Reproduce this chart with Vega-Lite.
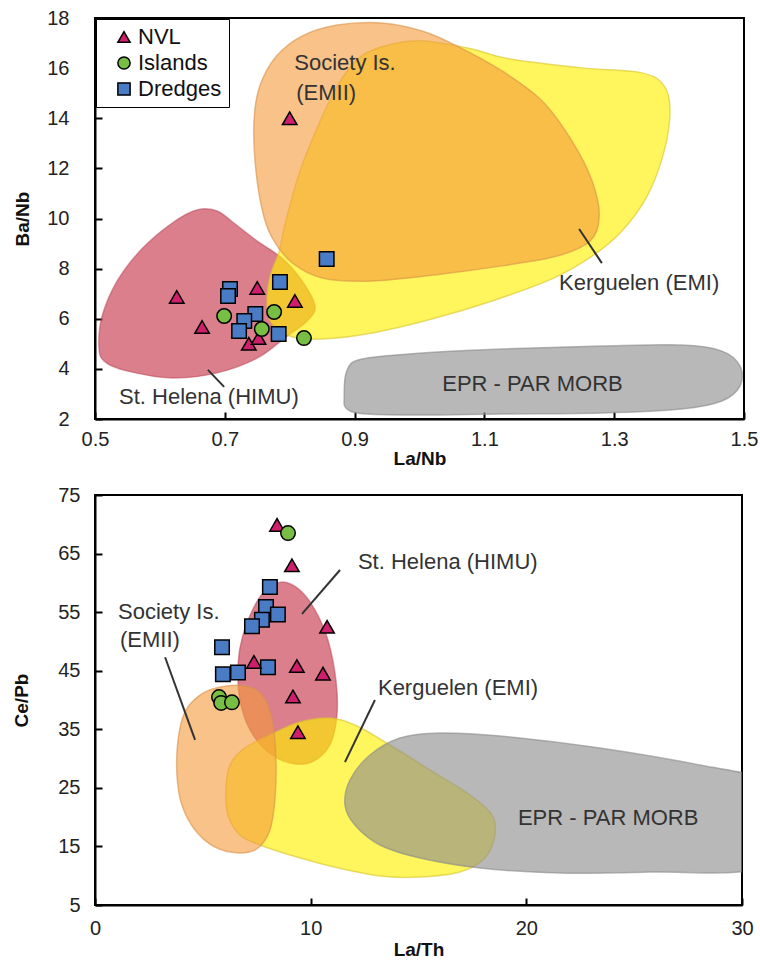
{
  "$schema": "https://vega.github.io/schema/vega-lite/v6.json",
  "padding": {"left": 11, "top": 7, "right": 10, "bottom": 2},
  "spacing": 15,
  "config": {
    "font": "Liberation Sans",
    "view": {"stroke": "black", "strokeWidth": 2},
    "axis": {
      "grid": false,
      "domainColor": "black",
      "domainWidth": 2,
      "tickColor": "black",
      "tickWidth": 2,
      "tickSize": -7,
      "labelFont": "Liberation Sans",
      "labelFontSize": 20,
      "labelColor": "#222222",
      "labelOverlap": false,
      "labelFlush": false,
      "titleFont": "Liberation Sans",
      "titleFontSize": 19,
      "titleFontWeight": "bold",
      "titleColor": "#111111"
    }
  },
  "datasets": {
    "shapes": [
      {"panel": "top", "region": "St. Helena", "i": 1, "x": 0.506, "y": 4.91},
      {"panel": "top", "region": "St. Helena", "i": 2, "x": 0.511, "y": 6.11},
      {"panel": "top", "region": "St. Helena", "i": 3, "x": 0.534, "y": 7.5},
      {"panel": "top", "region": "St. Helena", "i": 4, "x": 0.572, "y": 8.78},
      {"panel": "top", "region": "St. Helena", "i": 5, "x": 0.619, "y": 9.82},
      {"panel": "top", "region": "St. Helena", "i": 6, "x": 0.657, "y": 10.34},
      {"panel": "top", "region": "St. Helena", "i": 7, "x": 0.688, "y": 10.3},
      {"panel": "top", "region": "St. Helena", "i": 8, "x": 0.714, "y": 9.82},
      {"panel": "top", "region": "St. Helena", "i": 9, "x": 0.75, "y": 9.1},
      {"panel": "top", "region": "St. Helena", "i": 10, "x": 0.788, "y": 8.42},
      {"panel": "top", "region": "St. Helena", "i": 11, "x": 0.819, "y": 7.51},
      {"panel": "top", "region": "St. Helena", "i": 12, "x": 0.839, "y": 6.51},
      {"panel": "top", "region": "St. Helena", "i": 13, "x": 0.827, "y": 5.91},
      {"panel": "top", "region": "St. Helena", "i": 14, "x": 0.796, "y": 5.31},
      {"panel": "top", "region": "St. Helena", "i": 15, "x": 0.75, "y": 4.43},
      {"panel": "top", "region": "St. Helena", "i": 16, "x": 0.688, "y": 3.84},
      {"panel": "top", "region": "St. Helena", "i": 17, "x": 0.619, "y": 3.64},
      {"panel": "top", "region": "St. Helena", "i": 18, "x": 0.549, "y": 3.92},
      {"panel": "top", "region": "St. Helena", "i": 19, "x": 0.514, "y": 4.31},

      {"panel": "top", "region": "Kerguelen", "i": 1, "x": 0.765, "y": 6.71},
      {"panel": "top", "region": "Kerguelen", "i": 2, "x": 0.77, "y": 7.71},
      {"panel": "top", "region": "Kerguelen", "i": 3, "x": 0.784, "y": 8.7},
      {"panel": "top", "region": "Kerguelen", "i": 4, "x": 0.794, "y": 9.9},
      {"panel": "top", "region": "Kerguelen", "i": 5, "x": 0.816, "y": 11.9},
      {"panel": "top", "region": "Kerguelen", "i": 6, "x": 0.847, "y": 13.89},
      {"panel": "top", "region": "Kerguelen", "i": 7, "x": 0.878, "y": 15.49},
      {"panel": "top", "region": "Kerguelen", "i": 8, "x": 0.911, "y": 16.49},
      {"panel": "top", "region": "Kerguelen", "i": 9, "x": 0.958, "y": 16.96},
      {"panel": "top", "region": "Kerguelen", "i": 10, "x": 1.008, "y": 17.08},
      {"panel": "top", "region": "Kerguelen", "i": 11, "x": 1.081, "y": 16.76},
      {"panel": "top", "region": "Kerguelen", "i": 12, "x": 1.138, "y": 16.37},
      {"panel": "top", "region": "Kerguelen", "i": 13, "x": 1.25, "y": 16.01},
      {"panel": "top", "region": "Kerguelen", "i": 14, "x": 1.343, "y": 15.81},
      {"panel": "top", "region": "Kerguelen", "i": 15, "x": 1.377, "y": 15.29},
      {"panel": "top", "region": "Kerguelen", "i": 16, "x": 1.386, "y": 14.29},
      {"panel": "top", "region": "Kerguelen", "i": 17, "x": 1.377, "y": 12.69},
      {"panel": "top", "region": "Kerguelen", "i": 18, "x": 1.351, "y": 10.9},
      {"panel": "top", "region": "Kerguelen", "i": 19, "x": 1.312, "y": 9.5},
      {"panel": "top", "region": "Kerguelen", "i": 20, "x": 1.266, "y": 8.5},
      {"panel": "top", "region": "Kerguelen", "i": 21, "x": 1.204, "y": 7.59},
      {"panel": "top", "region": "Kerguelen", "i": 22, "x": 1.112, "y": 6.71},
      {"panel": "top", "region": "Kerguelen", "i": 23, "x": 1.019, "y": 5.99},
      {"panel": "top", "region": "Kerguelen", "i": 24, "x": 0.927, "y": 5.43},
      {"panel": "top", "region": "Kerguelen", "i": 25, "x": 0.85, "y": 5.19},
      {"panel": "top", "region": "Kerguelen", "i": 26, "x": 0.8, "y": 5.31},
      {"panel": "top", "region": "Kerguelen", "i": 27, "x": 0.77, "y": 5.91},

      {"panel": "top", "region": "Society", "i": 1, "x": 0.76, "y": 10.1},
      {"panel": "top", "region": "Society", "i": 2, "x": 0.748, "y": 11.9},
      {"panel": "top", "region": "Society", "i": 3, "x": 0.745, "y": 13.89},
      {"panel": "top", "region": "Society", "i": 4, "x": 0.754, "y": 15.29},
      {"panel": "top", "region": "Society", "i": 5, "x": 0.78, "y": 16.49},
      {"panel": "top", "region": "Society", "i": 6, "x": 0.819, "y": 17.28},
      {"panel": "top", "region": "Society", "i": 7, "x": 0.873, "y": 17.72},
      {"panel": "top", "region": "Society", "i": 8, "x": 0.942, "y": 17.8},
      {"panel": "top", "region": "Society", "i": 9, "x": 1.004, "y": 17.48},
      {"panel": "top", "region": "Society", "i": 10, "x": 1.058, "y": 16.88},
      {"panel": "top", "region": "Society", "i": 11, "x": 1.127, "y": 15.89},
      {"panel": "top", "region": "Society", "i": 12, "x": 1.189, "y": 14.69},
      {"panel": "top", "region": "Society", "i": 13, "x": 1.235, "y": 13.09},
      {"panel": "top", "region": "Society", "i": 14, "x": 1.266, "y": 11.5},
      {"panel": "top", "region": "Society", "i": 15, "x": 1.277, "y": 10.1},
      {"panel": "top", "region": "Society", "i": 16, "x": 1.263, "y": 9.1},
      {"panel": "top", "region": "Society", "i": 17, "x": 1.212, "y": 8.5},
      {"panel": "top", "region": "Society", "i": 18, "x": 1.127, "y": 8.11},
      {"panel": "top", "region": "Society", "i": 19, "x": 1.035, "y": 7.79},
      {"panel": "top", "region": "Society", "i": 20, "x": 0.927, "y": 7.51},
      {"panel": "top", "region": "Society", "i": 21, "x": 0.85, "y": 7.63},
      {"panel": "top", "region": "Society", "i": 22, "x": 0.804, "y": 8.23},
      {"panel": "top", "region": "Society", "i": 23, "x": 0.776, "y": 9.1},

      {"panel": "top", "region": "EPR", "i": 1, "x": 0.884, "y": 2.92},
      {"panel": "top", "region": "EPR", "i": 2, "x": 0.888, "y": 3.92},
      {"panel": "top", "region": "EPR", "i": 3, "x": 0.911, "y": 4.39},
      {"panel": "top", "region": "EPR", "i": 4, "x": 1.004, "y": 4.63},
      {"panel": "top", "region": "EPR", "i": 5, "x": 1.127, "y": 4.79},
      {"panel": "top", "region": "EPR", "i": 6, "x": 1.281, "y": 4.91},
      {"panel": "top", "region": "EPR", "i": 7, "x": 1.404, "y": 4.95},
      {"panel": "top", "region": "EPR", "i": 8, "x": 1.466, "y": 4.71},
      {"panel": "top", "region": "EPR", "i": 9, "x": 1.494, "y": 4.11},
      {"panel": "top", "region": "EPR", "i": 10, "x": 1.494, "y": 3.32},
      {"panel": "top", "region": "EPR", "i": 11, "x": 1.466, "y": 2.72},
      {"panel": "top", "region": "EPR", "i": 12, "x": 1.404, "y": 2.4},
      {"panel": "top", "region": "EPR", "i": 13, "x": 1.281, "y": 2.24},
      {"panel": "top", "region": "EPR", "i": 14, "x": 1.127, "y": 2.2},
      {"panel": "top", "region": "EPR", "i": 15, "x": 1.004, "y": 2.16},
      {"panel": "top", "region": "EPR", "i": 16, "x": 0.919, "y": 2.2},
      {"panel": "top", "region": "EPR", "i": 17, "x": 0.888, "y": 2.4},

      {"panel": "bottom", "region": "St. Helena", "i": 1, "x": 8.72, "y": 60.15},
      {"panel": "bottom", "region": "St. Helena", "i": 2, "x": 9.5, "y": 58.78},
      {"panel": "bottom", "region": "St. Helena", "i": 3, "x": 10.2, "y": 55.37},
      {"panel": "bottom", "region": "St. Helena", "i": 4, "x": 10.8, "y": 50.24},
      {"panel": "bottom", "region": "St. Helena", "i": 5, "x": 11.17, "y": 43.42},
      {"panel": "bottom", "region": "St. Helena", "i": 6, "x": 11.22, "y": 37.44},
      {"panel": "bottom", "region": "St. Helena", "i": 7, "x": 10.89, "y": 32.32},
      {"panel": "bottom", "region": "St. Helena", "i": 8, "x": 10.06, "y": 29.42},
      {"panel": "bottom", "region": "St. Helena", "i": 9, "x": 9.04, "y": 29.24},
      {"panel": "bottom", "region": "St. Helena", "i": 10, "x": 8.02, "y": 31.12},
      {"panel": "bottom", "region": "St. Helena", "i": 11, "x": 7.19, "y": 34.88},
      {"panel": "bottom", "region": "St. Helena", "i": 12, "x": 6.72, "y": 40.0},
      {"panel": "bottom", "region": "St. Helena", "i": 13, "x": 6.63, "y": 45.98},
      {"panel": "bottom", "region": "St. Helena", "i": 14, "x": 6.86, "y": 51.1},
      {"panel": "bottom", "region": "St. Helena", "i": 15, "x": 7.42, "y": 56.22},
      {"panel": "bottom", "region": "St. Helena", "i": 16, "x": 8.02, "y": 59.12},

      {"panel": "bottom", "region": "Kerguelen", "i": 1, "x": 6.07, "y": 24.63},
      {"panel": "bottom", "region": "Kerguelen", "i": 2, "x": 6.26, "y": 28.9},
      {"panel": "bottom", "region": "Kerguelen", "i": 3, "x": 6.95, "y": 31.81},
      {"panel": "bottom", "region": "Kerguelen", "i": 4, "x": 8.11, "y": 34.03},
      {"panel": "bottom", "region": "Kerguelen", "i": 5, "x": 9.5, "y": 36.24},
      {"panel": "bottom", "region": "Kerguelen", "i": 6, "x": 10.89, "y": 36.93},
      {"panel": "bottom", "region": "Kerguelen", "i": 7, "x": 12.05, "y": 35.73},
      {"panel": "bottom", "region": "Kerguelen", "i": 8, "x": 13.68, "y": 32.32},
      {"panel": "bottom", "region": "Kerguelen", "i": 9, "x": 15.53, "y": 28.05},
      {"panel": "bottom", "region": "Kerguelen", "i": 10, "x": 17.39, "y": 23.78},
      {"panel": "bottom", "region": "Kerguelen", "i": 11, "x": 18.41, "y": 20.37},
      {"panel": "bottom", "region": "Kerguelen", "i": 12, "x": 18.54, "y": 16.95},
      {"panel": "bottom", "region": "Kerguelen", "i": 13, "x": 18.08, "y": 13.02},
      {"panel": "bottom", "region": "Kerguelen", "i": 14, "x": 16.92, "y": 10.63},
      {"panel": "bottom", "region": "Kerguelen", "i": 15, "x": 15.07, "y": 9.78},
      {"panel": "bottom", "region": "Kerguelen", "i": 16, "x": 13.21, "y": 9.95},
      {"panel": "bottom", "region": "Kerguelen", "i": 17, "x": 10.89, "y": 11.66},
      {"panel": "bottom", "region": "Kerguelen", "i": 18, "x": 9.04, "y": 13.54},
      {"panel": "bottom", "region": "Kerguelen", "i": 19, "x": 7.65, "y": 15.24},
      {"panel": "bottom", "region": "Kerguelen", "i": 20, "x": 6.72, "y": 16.95},
      {"panel": "bottom", "region": "Kerguelen", "i": 21, "x": 6.17, "y": 20.37},

      {"panel": "bottom", "region": "Society", "i": 1, "x": 3.85, "y": 33.17},
      {"panel": "bottom", "region": "Society", "i": 2, "x": 4.17, "y": 37.95},
      {"panel": "bottom", "region": "Society", "i": 3, "x": 4.87, "y": 40.85},
      {"panel": "bottom", "region": "Society", "i": 4, "x": 5.8, "y": 42.22},
      {"panel": "bottom", "region": "Society", "i": 5, "x": 6.95, "y": 42.39},
      {"panel": "bottom", "region": "Society", "i": 6, "x": 7.74, "y": 40.85},
      {"panel": "bottom", "region": "Society", "i": 7, "x": 8.21, "y": 36.59},
      {"panel": "bottom", "region": "Society", "i": 8, "x": 8.39, "y": 29.76},
      {"panel": "bottom", "region": "Society", "i": 9, "x": 8.34, "y": 22.93},
      {"panel": "bottom", "region": "Society", "i": 10, "x": 8.11, "y": 17.81},
      {"panel": "bottom", "region": "Society", "i": 11, "x": 7.56, "y": 14.73},
      {"panel": "bottom", "region": "Society", "i": 12, "x": 6.72, "y": 13.88},
      {"panel": "bottom", "region": "Society", "i": 13, "x": 5.56, "y": 14.9},
      {"panel": "bottom", "region": "Society", "i": 14, "x": 4.64, "y": 17.81},
      {"panel": "bottom", "region": "Society", "i": 15, "x": 4.03, "y": 22.07},
      {"panel": "bottom", "region": "Society", "i": 16, "x": 3.8, "y": 27.2},

      {"panel": "bottom", "region": "EPR", "i": 1, "x": 11.59, "y": 22.07},
      {"panel": "bottom", "region": "EPR", "i": 2, "x": 11.82, "y": 26.34},
      {"panel": "bottom", "region": "EPR", "i": 3, "x": 12.75, "y": 30.61},
      {"panel": "bottom", "region": "EPR", "i": 4, "x": 14.14, "y": 33.51},
      {"panel": "bottom", "region": "EPR", "i": 5, "x": 15.99, "y": 34.37},
      {"panel": "bottom", "region": "EPR", "i": 6, "x": 18.78, "y": 33.85},
      {"panel": "bottom", "region": "EPR", "i": 7, "x": 23.41, "y": 31.81},
      {"panel": "bottom", "region": "EPR", "i": 8, "x": 28.05, "y": 28.9},
      {"panel": "bottom", "region": "EPR", "i": 9, "x": 30.83, "y": 26.34},
      {"panel": "bottom", "region": "EPR", "i": 10, "x": 31.76, "y": 19.51},
      {"panel": "bottom", "region": "EPR", "i": 11, "x": 30.83, "y": 11.32},
      {"panel": "bottom", "region": "EPR", "i": 12, "x": 25.73, "y": 10.63},
      {"panel": "bottom", "region": "EPR", "i": 13, "x": 21.56, "y": 10.46},
      {"panel": "bottom", "region": "EPR", "i": 14, "x": 17.85, "y": 11.32},
      {"panel": "bottom", "region": "EPR", "i": 15, "x": 15.07, "y": 13.02},
      {"panel": "bottom", "region": "EPR", "i": 16, "x": 13.21, "y": 15.24},
      {"panel": "bottom", "region": "EPR", "i": 17, "x": 12.05, "y": 18.66}
    ],
    "points": [
      {"panel": "top", "group": "Dredges", "x": 0.857, "y": 8.38},
      {"panel": "top", "group": "Dredges", "x": 0.785, "y": 7.47},
      {"panel": "top", "group": "Dredges", "x": 0.708, "y": 7.19},
      {"panel": "top", "group": "Dredges", "x": 0.705, "y": 6.91},
      {"panel": "top", "group": "Dredges", "x": 0.747, "y": 6.19},
      {"panel": "top", "group": "Dredges", "x": 0.73, "y": 5.91},
      {"panel": "top", "group": "Dredges", "x": 0.722, "y": 5.51},
      {"panel": "top", "group": "Dredges", "x": 0.783, "y": 5.39},
      {"panel": "top", "group": "NVL", "x": 0.8, "y": 14.0},
      {"panel": "top", "group": "NVL", "x": 0.626, "y": 6.87},
      {"panel": "top", "group": "NVL", "x": 0.665, "y": 5.67},
      {"panel": "top", "group": "NVL", "x": 0.75, "y": 7.23},
      {"panel": "top", "group": "NVL", "x": 0.808, "y": 6.71},
      {"panel": "top", "group": "NVL", "x": 0.737, "y": 5.0},
      {"panel": "top", "group": "NVL", "x": 0.752, "y": 5.23},
      {"panel": "top", "group": "Islands", "x": 0.699, "y": 6.11},
      {"panel": "top", "group": "Islands", "x": 0.776, "y": 6.27},
      {"panel": "top", "group": "Islands", "x": 0.757, "y": 5.59},
      {"panel": "top", "group": "Islands", "x": 0.822, "y": 5.23},

      {"panel": "bottom", "group": "Dredges", "x": 8.11, "y": 59.3},
      {"panel": "bottom", "group": "Dredges", "x": 7.93, "y": 55.9},
      {"panel": "bottom", "group": "Dredges", "x": 8.48, "y": 54.6},
      {"panel": "bottom", "group": "Dredges", "x": 7.74, "y": 53.7},
      {"panel": "bottom", "group": "Dredges", "x": 7.28, "y": 52.6},
      {"panel": "bottom", "group": "Dredges", "x": 5.89, "y": 49.0},
      {"panel": "bottom", "group": "Dredges", "x": 8.02, "y": 45.6},
      {"panel": "bottom", "group": "Dredges", "x": 5.93, "y": 44.4},
      {"panel": "bottom", "group": "Dredges", "x": 6.63, "y": 44.7},
      {"panel": "bottom", "group": "NVL", "x": 8.44, "y": 69.9},
      {"panel": "bottom", "group": "NVL", "x": 9.13, "y": 63.0},
      {"panel": "bottom", "group": "NVL", "x": 10.76, "y": 52.5},
      {"panel": "bottom", "group": "NVL", "x": 7.37, "y": 46.5},
      {"panel": "bottom", "group": "NVL", "x": 9.36, "y": 45.8},
      {"panel": "bottom", "group": "NVL", "x": 10.57, "y": 44.5},
      {"panel": "bottom", "group": "NVL", "x": 9.18, "y": 40.6},
      {"panel": "bottom", "group": "NVL", "x": 9.41, "y": 34.5},
      {"panel": "bottom", "group": "Islands", "x": 8.95, "y": 68.5},
      {"panel": "bottom", "group": "Islands", "x": 5.75, "y": 40.5},
      {"panel": "bottom", "group": "Islands", "x": 5.85, "y": 39.5},
      {"panel": "bottom", "group": "Islands", "x": 6.35, "y": 39.6}
    ],
    "labels": [
      {"panel": "top", "text": "Society Is.", "x": 0.807, "y": 16.21},
      {"panel": "top", "text": "(EMII)", "x": 0.81, "y": 15.01},
      {"panel": "top", "text": "Kerguelen (EMI)", "x": 1.215, "y": 7.43},
      {"panel": "top", "text": "St. Helena (HIMU)", "x": 0.537, "y": 2.88},
      {"panel": "top", "text": "EPR - PAR MORB", "x": 1.035, "y": 3.4},
      {"panel": "bottom", "text": "St. Helena (HIMU)", "x": 12.19, "y": 63.56},
      {"panel": "bottom", "text": "Society Is.", "x": 1.07, "y": 55.0},
      {"panel": "bottom", "text": "(EMII)", "x": 1.16, "y": 50.2},
      {"panel": "bottom", "text": "Kerguelen (EMI)", "x": 13.12, "y": 42.05},
      {"panel": "bottom", "text": "EPR - PAR MORB", "x": 19.61, "y": 19.85}
    ],
    "leaders": [
      {"panel": "top", "x": 1.246, "y": 9.58, "xe": 1.281, "ye": 8.22},
      {"panel": "top", "x": 0.674, "y": 3.96, "xe": 0.699, "ye": 3.28},
      {"panel": "bottom", "x": 11.36, "y": 62.2, "xe": 9.6, "ye": 54.7},
      {"panel": "bottom", "x": 3.25, "y": 47.3, "xe": 4.64, "ye": 33.2},
      {"panel": "bottom", "x": 12.98, "y": 40.0, "xe": 11.59, "ye": 29.4}
    ]
  },
  "resolve": {
    "scale": {"fill": "independent", "shape": "independent"},
    "legend": {"fill": "independent", "shape": "independent"}
  },
  "vconcat": [
    {
      "width": 649,
      "height": 401,
      "encoding": {
        "x": {"field": "x", "type": "quantitative", "title": "La/Nb",
              "scale": {"domain": [0.5, 1.5], "nice": false, "zero": false},
              "axis": {"values": [0.5, 0.7, 0.9, 1.1, 1.3, 1.5], "format": ".1f", "labelPadding": 17, "titlePadding": 0}},
        "y": {"field": "y", "type": "quantitative", "title": "Ba/Nb",
              "scale": {"domain": [2, 18], "nice": false, "zero": false},
              "axis": {"values": [2, 4, 6, 8, 10, 12, 14, 16, 18], "labelPadding": 33, "titlePadding": 14}}
      },
      "layer": [
        {
          "data": {"name": "shapes"},
          "transform": [{"filter": "datum.panel === 'top' && datum.region === 'St. Helena'"}],
          "mark": {"type": "line", "interpolate": "cardinal-closed", "fill": "#c83c50", "fillOpacity": 0.66, "stroke": "#b84455", "strokeWidth": 1.5, "strokeOpacity": 0.5},
          "encoding": {"order": {"field": "i"}}
        },
        {
          "data": {"name": "shapes"},
          "transform": [{"filter": "datum.panel === 'top' && datum.region === 'Kerguelen'"}],
          "mark": {"type": "line", "interpolate": "cardinal-closed", "fill": "#fff000", "fillOpacity": 0.64, "stroke": "#d8c430", "strokeWidth": 1.5, "strokeOpacity": 0.6},
          "encoding": {"order": {"field": "i"}}
        },
        {
          "data": {"name": "shapes"},
          "transform": [{"filter": "datum.panel === 'top' && datum.region === 'Society'"}],
          "mark": {"type": "line", "interpolate": "cardinal-closed", "fill": "#f39a3a", "fillOpacity": 0.6, "stroke": "#d8924a", "strokeWidth": 1.5, "strokeOpacity": 0.6},
          "encoding": {"order": {"field": "i"}}
        },
        {
          "data": {"name": "shapes"},
          "transform": [{"filter": "datum.panel === 'top' && datum.region === 'EPR'"}],
          "mark": {"type": "line", "interpolate": "cardinal-closed", "fill": "#8c8c8c", "fillOpacity": 0.62, "stroke": "#8a8a8a", "strokeWidth": 1.5, "strokeOpacity": 0.6},
          "encoding": {"order": {"field": "i"}}
        },
        {
          "data": {"name": "leaders"},
          "transform": [{"filter": "datum.panel === 'top'"}],
          "mark": {"type": "rule", "color": "#333333", "strokeWidth": 2},
          "encoding": {"x2": {"field": "xe"}, "y2": {"field": "ye"}}
        },
        {
          "data": {"name": "labels"},
          "transform": [{"filter": "datum.panel === 'top'"}],
          "mark": {"type": "text", "align": "left", "baseline": "middle", "fontSize": 22, "color": "#333333"},
          "encoding": {"text": {"field": "text"}}
        },
        {
          "data": {"name": "points"},
          "transform": [{"filter": "datum.panel === 'top'"}],
          "mark": {"type": "point", "filled": true, "opacity": 1, "stroke": "black", "strokeWidth": 1.5, "size": 210},
          "encoding": {
            "shape": {"field": "group", "type": "nominal",
                      "scale": {"domain": ["NVL", "Islands", "Dredges"], "range": ["triangle-up", "circle", "square"]},
                      "legend": {"title": null}},
            "fill": {"field": "group", "type": "nominal",
                     "scale": {"domain": ["NVL", "Islands", "Dredges"], "range": ["#cf1f6c", "#78be45", "#4a7cc6"]},
                     "legend": {
                       "title": null, "orient": "top-left", "offset": 1,
                       "fillColor": "white", "strokeColor": "black",
                       "padding": 7, "rowPadding": 4, "symbolOffset": 10,
                       "labelFont": "Liberation Sans", "labelFontSize": 22, "labelColor": "#111111",
                       "labelOffset": 3,
                       "symbolSize": 150, "symbolStrokeColor": "black", "symbolStrokeWidth": 1.5
                     }}
          }
        }
      ]
    },
    {
      "width": 647,
      "height": 410,
      "encoding": {
        "x": {"field": "x", "type": "quantitative", "title": "La/Th",
              "scale": {"domain": [0, 30], "nice": false},
              "axis": {"values": [0, 10, 20, 30], "labelPadding": 20, "titlePadding": 2}},
        "y": {"field": "y", "type": "quantitative", "title": "Ce/Pb",
              "scale": {"domain": [5, 75], "nice": false, "zero": false},
              "axis": {"values": [5, 15, 25, 35, 45, 55, 65, 75], "labelPadding": 22, "titlePadding": 26}}
      },
      "layer": [
        {
          "data": {"name": "shapes"},
          "transform": [{"filter": "datum.panel === 'bottom' && datum.region === 'St. Helena'"}],
          "mark": {"type": "line", "interpolate": "cardinal-closed", "fill": "#c83c50", "fillOpacity": 0.66, "stroke": "#b84455", "strokeWidth": 1.5, "strokeOpacity": 0.5},
          "encoding": {"order": {"field": "i"}}
        },
        {
          "data": {"name": "shapes"},
          "transform": [{"filter": "datum.panel === 'bottom' && datum.region === 'Kerguelen'"}],
          "mark": {"type": "line", "interpolate": "cardinal-closed", "fill": "#fff000", "fillOpacity": 0.64, "stroke": "#d8c430", "strokeWidth": 1.5, "strokeOpacity": 0.6},
          "encoding": {"order": {"field": "i"}}
        },
        {
          "data": {"name": "shapes"},
          "transform": [{"filter": "datum.panel === 'bottom' && datum.region === 'Society'"}],
          "mark": {"type": "line", "interpolate": "cardinal-closed", "fill": "#f39a3a", "fillOpacity": 0.6, "stroke": "#d8924a", "strokeWidth": 1.5, "strokeOpacity": 0.6},
          "encoding": {"order": {"field": "i"}}
        },
        {
          "data": {"name": "shapes"},
          "transform": [{"filter": "datum.panel === 'bottom' && datum.region === 'EPR'"}],
          "mark": {"type": "line", "interpolate": "cardinal-closed", "clip": true, "fill": "#8c8c8c", "fillOpacity": 0.62, "stroke": "#8a8a8a", "strokeWidth": 1.5, "strokeOpacity": 0.6},
          "encoding": {"order": {"field": "i"}}
        },
        {
          "data": {"name": "leaders"},
          "transform": [{"filter": "datum.panel === 'bottom'"}],
          "mark": {"type": "rule", "color": "#333333", "strokeWidth": 2},
          "encoding": {"x2": {"field": "xe"}, "y2": {"field": "ye"}}
        },
        {
          "data": {"name": "labels"},
          "transform": [{"filter": "datum.panel === 'bottom'"}],
          "mark": {"type": "text", "align": "left", "baseline": "middle", "fontSize": 22, "color": "#333333"},
          "encoding": {"text": {"field": "text"}}
        },
        {
          "data": {"name": "points"},
          "transform": [{"filter": "datum.panel === 'bottom'"}],
          "mark": {"type": "point", "filled": true, "opacity": 1, "stroke": "black", "strokeWidth": 1.5, "size": 210},
          "encoding": {
            "shape": {"field": "group", "type": "nominal",
                      "scale": {"domain": ["NVL", "Islands", "Dredges"], "range": ["triangle-up", "circle", "square"]},
                      "legend": null},
            "fill": {"field": "group", "type": "nominal",
                     "scale": {"domain": ["NVL", "Islands", "Dredges"], "range": ["#cf1f6c", "#78be45", "#4a7cc6"]},
                     "legend": null}
          }
        }
      ]
    }
  ]
}
